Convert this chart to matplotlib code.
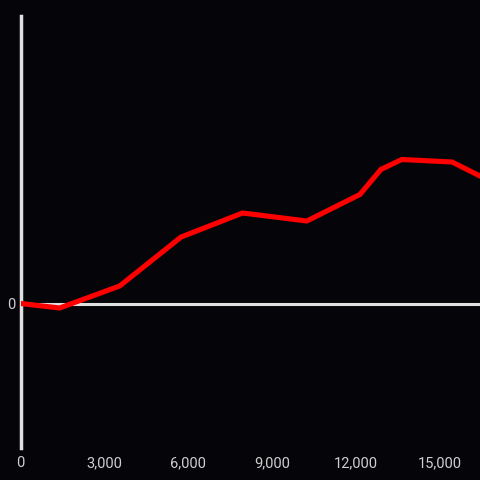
import matplotlib.pyplot as plt
from matplotlib.ticker import FuncFormatter

# data
x_vals = [0, 1400, 3550, 5750, 7950, 10250, 12150, 12900, 13650, 15450, 16450]
y_vals = [0, -4.5, 17.5, 66.5, 90.5, 82.5, 109, 134, 144, 141.5, 127.5]
x_ticks = [0, 3000, 6000, 9000, 12000, 15000]
y_ticks = [0]

bg = '#050408'
axis_col = '#e0e0e0'
text_col = '#cfcfcf'

plt.rcParams['font.family'] = ['Roboto', 'DejaVu Sans']

fig = plt.figure(figsize=(4.8, 4.8), dpi=100, facecolor=bg)
ax = fig.add_axes([20.5 / 480, 32 / 480, 459.5 / 480, 432 / 480])
ax.set_facecolor(bg)

ax.axhline(0, color=axis_col, lw=2.2, zorder=1)
ax.plot(x_vals, y_vals, color='#ff0000', lw=3.7, solid_joinstyle='miter', zorder=3, clip_on=True)

ax.set_xlim(0, 16450)
ax.set_ylim(-144.5, 287.5)

for s in ['top', 'right', 'bottom']:
    ax.spines[s].set_visible(False)
ax.spines['left'].set_color(axis_col)
ax.spines['left'].set_linewidth(2.5)

ax.set_xticks(x_ticks)
ax.xaxis.set_major_formatter(FuncFormatter(lambda v, p: f'{int(v):,}'))
ax.set_yticks(y_ticks)
ax.tick_params(axis='both', length=0, colors=text_col, labelsize=10.5)
ax.tick_params(axis='x', pad=6)
ax.tick_params(axis='y', pad=4)

fig.savefig('out.png', dpi=100, facecolor=bg)
